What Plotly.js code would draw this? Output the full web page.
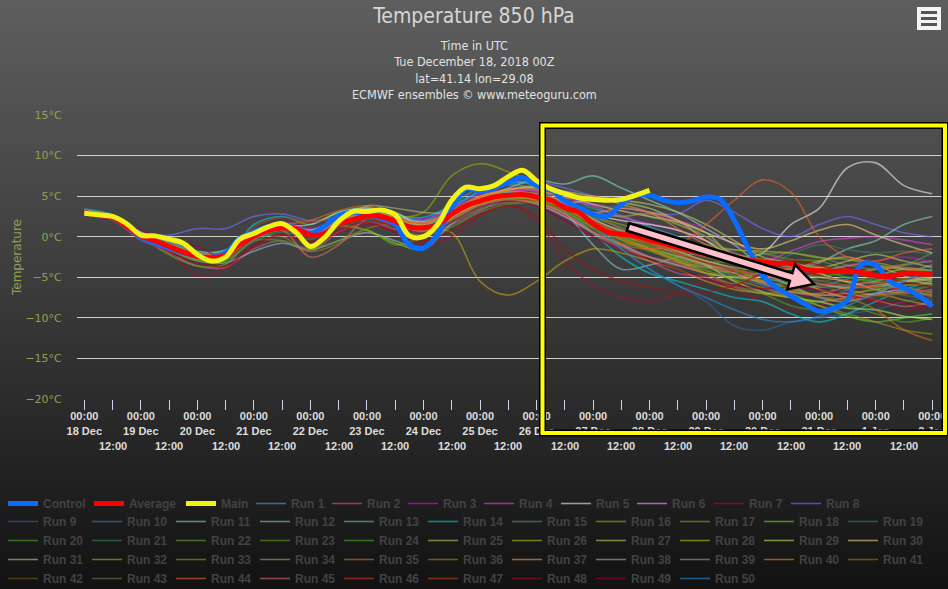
<!DOCTYPE html>
<html><head><meta charset="utf-8">
<script src="https://cdn.plot.ly/plotly-3.0.1.min.js"></script>
<style>
html,body{margin:0;padding:0;}
body{width:948px;height:589px;overflow:hidden;background:linear-gradient(to bottom,#5e5e5e 0%,#3a3a3a 50%,#121212 100%);}
#chart{width:948px;height:589px;}
</style></head><body><div id="chart"></div>
<script>
// ---------- DATA ----------
const startUTC = Date.UTC(2018, 11, 18, 0);
const dayLabels = ['18 Dec','19 Dec','20 Dec','21 Dec','22 Dec','23 Dec','24 Dec','25 Dec','26 Dec','27 Dec','28 Dec','29 Dec','30 Dec','31 Dec','1 Jan','2 Jan'];
const yTickVals = [-20, -15, -10, -5, 0, 5, 10, 15];
const yTickText = ['\u221220°C', '\u221215°C', '\u221210°C', '\u22125°C', '0°C', '5°C', '10°C', '15°C'];

// 6-hourly, 18 Dec 00Z .. 2 Jan 00Z
const controlRun = [3.0,2.6,2.4,1.3,-0.1,-0.8,-1.4,-2.0,-2.4,-2.6,
  -2.0,-0.2,0.6,1.2,1.4,1.0,0.4,1.3,2.6,3.0,
  2.7,2.3,1.5,-1.0,-1.4,0.3,3.5,5.9,5.6,6.0,
  6.7,7.3,6.3,5.8,4.4,3.6,2.8,2.5,4.0,5.1,
  5.1,4.5,4.2,4.4,4.9,4.6,2.0,-1.5,-4.8,-6.3,
  -7.3,-8.3,-9.2,-8.8,-7.8,-3.4,-3.5,-5.5,-6.3,-7.2,-8.6];
const averageRun = [3.0,2.6,2.4,1.3,0.1,-0.5,-1.2,-1.9,-2.4,-2.6,
  -2.3,-0.9,0.1,0.8,1.1,1.0,0.2,0.4,1.6,2.1,
  2.6,2.5,1.9,1.2,1.1,1.5,2.8,3.8,4.4,4.9,
  5.1,5.2,4.9,4.5,3.6,3.0,1.6,0.6,0.3,0.1,
  -0.4,-0.8,-1.3,-1.7,-2.1,-2.4,-2.6,-2.9,-3.1,-3.3,
  -3.3,-4.0,-4.2,-4.3,-4.2,-4.4,-4.8,-4.9,-4.5,-4.5,-4.6];
// 6-hourly, 18 Dec 00Z .. 28 Dec 00Z
const mainRun = [2.9,2.7,2.5,1.6,0.2,0.1,-0.3,-0.8,-2.2,-3.0,-2.5,
  -0.3,0.4,1.2,1.6,0.5,-1.2,-0.1,1.9,3.1,3.1,
  3.3,2.7,0.1,0.0,1.5,4.5,6.1,5.9,6.3,7.4,
  8.2,6.9,5.9,5.3,4.8,4.6,4.5,4.6,5.1,5.7];

// ensemble members, 12-hourly, 18 Dec 00Z .. 2 Jan 00Z
const run1 = [3.2,2.5,0.4,-0.8,-2.0,-1.6,0.8,1.6,0.9,2.2,3.4,2.8,2.0,4.0,6.0,6.4,6.0,5.2,3.5,2.6,1.2,0.0,-1.5,-2.8,-4.0,-5.5,-6.0,-5.2,-4.0,-3.5,-3.0];
const run2 = [2.8,2.2,-0.2,-2.0,-3.6,-3.8,-1.5,-0.5,-1.8,0.6,1.8,0.9,0.2,1.5,3.2,4.8,5.5,4.6,2.0,-1.0,-3.0,-4.5,-5.0,-6.2,-7.0,-6.5,-5.8,-6.5,-7.2,-6.8,-6.0];
const run3 = [3.1,2.6,0.3,-1.0,-2.2,-2.0,0.5,1.8,1.0,2.0,2.9,2.4,2.2,3.6,5.2,5.8,5.2,4.4,4.0,3.5,3.0,2.0,1.0,-1.0,-2.0,-3.2,-4.0,-3.5,-3.0,-2.5,-3.2];
const run4 = [3.0,2.3,0.0,-1.4,-2.6,-2.8,-0.3,0.9,0.0,1.2,2.4,2.0,1.5,3.0,4.6,5.5,5.7,4.8,3.8,2.4,1.6,0.8,-0.5,-2.0,-3.0,-1.8,-0.6,-0.2,0.0,-0.4,-1.0];
const run5 = [2.9,2.4,0.2,-1.0,-2.0,-2.2,0.4,1.4,0.6,1.9,2.8,2.2,1.8,3.2,5.0,5.6,5.0,4.0,2.8,2.0,1.5,0.8,-0.5,-2.5,-2.0,1.5,3.5,8.5,9.1,6.3,5.3];
const run6 = [3.0,2.5,0.1,-1.3,-2.5,-2.5,0.0,1.0,0.3,1.5,2.5,1.5,0.8,2.4,4.0,4.5,4.0,2.5,0.5,-1.0,-2.5,-3.5,-4.5,-5.0,-4.5,-5.0,-6.5,-7.5,-7.0,-6.5,-6.8];
const run7 = [3.1,2.2,-0.3,-1.8,-4.8,-4.0,-1.2,0.2,-0.8,0.5,1.6,0.5,-1.0,0.0,2.5,4.0,2.0,-3.0,-6.0,-7.5,-8.0,-7.0,-5.5,-6.5,-8.0,-9.0,-8.5,-7.5,-8.0,-9.0,-8.5];
const run8 = [3.0,2.6,0.5,0.2,1.0,1.0,2.5,2.8,2.0,2.5,3.2,2.6,2.0,3.5,5.5,6.5,6.8,6.0,5.0,4.0,3.0,2.8,4.5,3.0,1.0,0.0,1.5,2.5,1.5,0.5,0.0];
const run9 = [2.9,2.3,0.0,-1.3,-2.6,-2.5,-0.2,0.8,0.0,1.4,2.3,1.6,0.7,2.2,4.0,4.9,4.6,3.0,1.0,-1.5,-4.0,-6.0,-8.0,-11.0,-11.5,-10.5,-10.0,-9.5,-9.0,-8.0,-7.5];
const run10 = [3.0,2.4,0.1,-1.1,-2.3,-2.1,0.2,1.3,0.4,1.8,2.8,2.3,1.6,3.4,4.8,5.4,5.0,4.2,2.4,1.2,0.0,-1.6,-3.5,-5.0,-6.0,-7.5,-8.0,-6.5,-5.0,-4.0,-4.5];
const run11 = [3.3,2.6,0.6,-0.6,-1.8,-1.7,0.6,1.5,0.8,2.0,3.0,2.5,1.8,3.0,4.6,6.0,7.0,6.5,7.5,6.0,4.5,3.0,1.0,-1.0,-3.5,-4.0,-3.2,-1.5,-0.5,1.5,2.5];
const run12 = [2.8,2.1,-0.4,-1.7,-3.0,-3.2,-1.8,-0.8,-1.6,-0.5,0.5,-0.5,-1.5,1.6,3.6,4.6,5.2,3.0,-1.0,-4.0,-3.5,-2.5,-2.0,-3.0,-4.5,-6.0,-7.5,-8.0,-7.0,-5.5,-5.0];
const run13 = [3.1,2.5,0.2,-1.0,-2.1,-2.0,0.4,1.2,0.5,1.7,2.6,2.0,1.4,2.6,4.2,5.0,4.8,3.6,1.8,0.0,-1.5,-2.5,-3.6,-4.0,-5.0,-5.8,-6.2,-6.0,-5.5,-4.5,-3.5];
const run14 = [3.4,2.7,0.5,-0.9,-2.2,-2.4,1.5,2.5,1.5,3.0,3.6,2.6,2.4,3.8,5.6,6.8,6.2,3.5,0.5,-2.5,-4.5,-5.5,-6.5,-7.5,-8.0,-9.5,-10.5,-9.5,-8.0,-6.5,-5.5];
const run15 = [3.0,2.4,0.0,-1.4,-2.7,-2.6,-0.3,0.8,0.0,1.3,2.2,1.4,0.4,1.8,3.4,4.2,4.0,2.8,0.6,-1.2,-2.5,-3.6,-3.2,-3.0,-2.2,-2.0,-2.5,-3.5,-4.0,-3.5,-2.0];
const run16 = [3.0,2.5,0.3,-1.0,-2.2,-2.2,0.3,1.4,0.4,1.8,3.0,2.4,3.0,7.5,9.0,8.0,6.5,4.4,2.6,1.5,0.5,-0.8,-2.0,-2.2,-2.8,-3.5,-4.5,-5.5,-4.8,-4.0,-4.2];
const run17 = [2.9,2.3,0.0,-2.2,-3.6,-3.4,0.0,1.0,0.1,1.4,2.4,1.7,0.9,2.5,4.2,4.8,4.5,3.2,1.0,-0.8,-1.2,-1.8,-2.0,-2.5,-3.0,-3.5,-3.8,-4.2,-5.0,-5.5,-5.2];
const run18 = [3.1,2.4,0.2,-1.1,-2.3,-2.2,0.1,1.2,0.3,1.7,2.7,2.1,1.3,3.0,4.6,5.2,5.0,4.0,2.2,0.5,-0.8,-2.0,-3.0,-4.0,-5.5,-7.0,-8.5,-9.8,-10.5,-10.0,-9.5];
const run19 = [3.0,2.3,-0.1,-1.5,-2.8,-2.9,-0.6,0.6,-0.3,1.1,2.1,1.2,0.3,1.9,3.8,4.6,4.4,3.0,1.0,-0.5,-1.8,-2.8,-4.0,-5.2,-3.8,-2.2,-1.0,-1.6,-2.0,-1.8,-2.2];
const run20 = [2.9,2.2,-0.2,-1.6,-2.9,-3.0,-0.5,-0.5,-1.5,-0.5,0.8,-1.0,0.0,1.2,3.0,4.0,4.2,3.4,1.5,0.2,-1.0,-2.6,-4.5,-6.0,-7.0,-8.5,-9.0,-8.5,-9.5,-10.5,-10.0];
const run21 = [3.0,2.5,0.2,-1.1,-2.3,-2.1,0.3,1.2,0.4,1.6,2.6,1.9,1.2,2.6,4.4,5.2,5.3,4.3,3.5,3.8,2.5,1.5,0.0,-3.0,-4.2,-5.0,-5.5,-5.0,-5.8,-6.5,-6.0];
const run22 = [3.1,2.6,0.4,-0.9,-2.0,-1.9,0.5,1.5,0.6,2.0,3.0,2.3,1.6,3.1,4.8,5.5,5.2,3.8,1.5,-0.3,-1.5,-2.4,-3.5,-4.8,-5.6,-5.8,-5.0,-4.5,-5.2,-6.2,-7.0];
const run23 = [2.8,2.2,-0.3,-1.6,-2.8,-2.7,-0.2,0.9,0.0,1.3,2.3,1.5,0.6,2.0,3.8,4.6,4.3,3.0,1.2,-0.2,-0.5,-0.8,-1.0,-1.6,-2.0,-2.8,-3.0,-4.0,-4.6,-5.2,-5.8];
const run24 = [3.2,2.5,0.3,-1.0,-2.2,-2.2,0.2,1.1,0.2,1.6,2.5,1.8,1.0,2.5,4.2,4.8,4.6,3.6,1.6,0.0,-1.4,-2.8,-3.8,-4.4,-3.2,-3.5,-4.0,-5.0,-5.4,-4.6,-4.0];
const run25 = [3.0,2.4,0.1,-1.2,-2.4,-2.4,0.0,1.1,0.2,1.5,2.5,1.8,1.0,2.7,4.6,5.8,6.2,5.6,5.0,4.5,4.0,3.0,1.5,-0.5,-2.5,-3.2,-3.8,-3.0,-2.2,-3.0,-3.8];
const run26 = [2.9,2.3,-0.1,-1.4,-2.6,-2.6,-0.2,0.9,0.0,1.3,0.8,-0.8,-1.5,2.3,4.0,4.8,4.6,3.4,1.4,0.2,-0.6,-1.5,-1.5,-1.6,-1.8,-2.0,-2.6,-2.8,-3.5,-4.0,-4.4];
const run27 = [3.1,2.5,0.2,-1.0,-2.2,-2.1,0.3,1.3,0.4,1.7,2.7,2.1,1.4,2.9,4.6,5.4,5.2,4.2,4.5,4.2,3.5,2.0,0.5,-2.5,-3.2,-3.6,-4.5,-5.6,-6.2,-5.5,-5.2];
const run28 = [3.0,2.4,0.0,-1.3,-2.5,-2.3,0.1,1.1,0.2,1.6,2.6,2.0,1.2,2.8,4.5,5.0,4.8,3.8,1.8,0.0,-1.5,-3.0,-4.5,-5.0,-5.5,-6.4,-7.2,-7.0,-6.5,-6.0,-5.8];
const run29 = [2.9,2.3,-0.1,-1.5,-2.7,-2.6,-0.1,1.0,0.0,1.4,2.4,1.7,1.0,2.5,4.4,5.2,5.0,3.6,1.7,0.4,-0.7,-2.2,-3.5,-5.5,-6.8,-7.5,-8.0,-8.8,-9.0,-9.8,-10.2];
const run30 = [3.0,2.5,0.2,-1.1,-2.3,-2.2,0.2,1.2,1.5,3.0,3.5,3.0,1.3,2.9,4.8,5.8,6.0,5.2,4.0,3.2,2.5,1.8,0.5,-0.8,-1.5,-0.5,0.8,1.5,0.2,-1.0,-2.0];
const run31 = [3.0,2.4,0.1,-1.2,-2.4,-2.3,0.1,1.1,0.1,1.5,2.5,1.8,1.0,2.6,4.3,5.0,4.9,3.9,2.0,0.8,-0.2,-1.4,-2.4,-3.0,-3.8,-4.5,-5.0,-5.5,-6.5,-7.0,-6.5];
const run32 = [3.1,2.4,0.1,-1.2,-2.4,-2.4,-0.1,1.0,0.0,1.4,2.3,1.5,1.0,0.5,-5.5,-7.2,-5.5,-3.0,-1.5,-2.0,-3.0,-4.0,-5.5,-6.5,-7.0,-7.5,-8.0,-7.5,-7.0,-7.8,-8.5];
const run33 = [2.9,2.3,0.0,-1.3,-2.5,-2.5,0.0,1.0,0.1,1.4,2.4,1.6,0.9,2.4,4.1,4.8,4.6,3.5,1.4,-0.3,-1.7,-3.0,-4.2,-5.3,-6.3,-7.5,-8.5,-9.5,-10.5,-11.5,-12.0];
const run34 = [3.0,2.5,0.2,-1.1,-2.3,-2.2,0.2,1.2,0.3,1.7,2.7,2.1,1.3,2.8,4.5,5.2,5.0,4.0,3.0,2.5,2.8,1.5,0.0,-2.2,-3.0,-3.8,-4.2,-3.6,-3.2,-4.0,-4.8];
const run35 = [3.1,2.6,0.3,-1.0,-2.1,-2.0,0.4,1.4,2.0,3.2,3.8,2.3,1.7,3.2,5.0,5.6,5.3,4.3,2.6,1.0,-0.5,-1.8,-3.0,-4.0,-4.8,-5.5,-6.5,-7.5,-9.0,-11.5,-12.8];
const run36 = [2.9,2.3,-0.1,-1.4,-2.6,-2.5,0.0,1.0,0.1,1.4,2.4,1.7,0.9,2.5,4.3,5.0,4.7,3.4,1.3,-0.4,-1.6,-2.8,-3.4,-4.2,-5.4,-6.6,-7.4,-7.8,-7.2,-6.8,-7.4];
const run37 = [3.0,2.4,0.1,-1.2,-2.4,-2.3,0.1,1.1,0.2,1.6,2.6,1.9,1.1,2.7,4.5,5.3,5.2,4.4,3.0,3.5,3.0,2.0,-0.5,-2.6,-3.5,-4.0,-3.0,-2.5,-3.5,-4.8,-5.5];
const run38 = [3.0,2.5,0.2,-1.0,-2.2,-2.1,0.3,1.3,0.4,1.8,3.8,3.5,3.0,3.0,4.7,5.4,5.2,4.0,2.2,0.6,-0.6,-1.8,-3.0,-3.8,-4.2,-5.0,-5.8,-6.3,-6.0,-5.5,-5.8];
const run39 = [2.9,2.3,0.0,-1.3,-2.5,-2.4,0.0,1.0,0.1,1.4,2.4,1.7,1.0,2.5,4.2,4.9,4.7,3.6,1.8,0.2,-1.2,-2.4,-3.4,-4.5,-5.8,-6.8,-7.0,-6.2,-5.6,-6.5,-7.2];
const run40 = [3.1,2.5,0.3,-1.0,-2.2,-2.1,0.3,1.3,0.4,1.8,2.8,2.1,1.5,3.1,4.9,5.8,5.8,4.8,5.0,4.0,3.0,1.0,-1.0,-2.4,-2.8,-3.6,-4.0,-4.4,-4.0,-3.8,-4.2];
const run41 = [3.0,2.4,0.0,-1.3,-2.5,-2.4,-0.1,0.0,-1.8,-0.8,1.0,1.5,0.7,2.2,3.9,4.6,4.4,3.2,1.2,-0.2,-1.6,-3.2,-4.6,-5.8,-4.4,-3.8,-3.6,-4.4,-4.0,-3.4,-3.0];
const run42 = [2.9,2.3,-0.1,-1.4,-2.6,-2.6,-0.2,0.9,0.0,1.3,2.2,1.4,0.6,2.0,3.8,4.5,4.4,3.3,1.4,0.0,-1.2,-2.2,-3.2,-4.0,-4.5,-5.2,-6.0,-6.8,-7.4,-7.0,-6.6];
const run43 = [3.0,2.4,0.1,-1.2,-2.4,-2.3,0.1,1.1,0.2,1.6,2.6,1.9,1.1,2.7,4.4,5.1,4.9,3.8,1.9,0.5,-0.6,-1.6,-2.6,-3.4,-4.0,-4.6,-5.4,-6.0,-6.6,-7.2,-7.8];
const run44 = [3.2,2.6,0.4,-0.9,-2.1,-2.0,0.4,1.4,0.5,1.9,2.9,2.3,1.7,3.2,4.8,5.2,4.4,2.8,0.6,-1.0,-1.5,-1.0,1.5,4.5,7.0,5.5,0.0,-2.5,-3.0,-2.0,-1.5];
const run45 = [2.9,2.2,-0.2,-1.5,-2.7,-2.7,-0.3,0.8,-2.5,-1.0,2.2,1.4,0.7,2.1,3.9,4.5,4.2,2.8,0.5,-1.5,-2.5,-3.2,-3.8,-4.5,-5.6,-6.8,-7.2,-7.0,-7.8,-8.6,-8.0];
const run46 = [3.0,2.4,0.1,-1.2,-2.4,-2.3,0.1,1.1,0.2,1.5,2.5,1.8,1.0,2.6,4.3,5.0,4.8,3.7,1.7,0.3,-0.8,-2.0,-3.2,-4.2,-4.8,-5.2,-5.8,-6.0,-6.2,-6.5,-6.8];
const run47 = [3.1,2.5,0.2,-1.1,-2.3,-2.2,1.2,2.4,1.8,2.4,3.2,2.0,1.2,2.8,4.5,5.2,5.0,3.9,2.0,0.4,-0.8,-1.6,-2.4,-3.2,-3.6,-4.0,-4.8,-5.4,-5.8,-5.2,-4.8];
const run48 = [2.8,2.1,-0.4,-1.8,-3.2,-3.6,-1.0,0.3,-0.6,0.8,1.8,0.6,-0.5,0.8,2.8,3.8,2.5,-1.5,-4.0,-5.5,-6.2,-7.0,-6.8,-6.0,-4.5,-3.0,-3.5,-4.5,-5.0,-5.6,-6.2];
const run49 = [3.0,2.3,0.8,-0.5,-1.2,-2.6,-0.2,0.9,-0.1,1.2,2.2,1.3,0.4,1.8,3.6,4.4,3.8,2.0,0.0,-1.5,-2.8,-4.0,-5.2,-6.0,-6.4,-6.2,-6.6,-7.2,-7.8,-8.2,-8.8];
const run50 = [3.1,2.5,0.3,-1.0,-2.2,-2.1,0.2,1.2,0.3,1.7,2.7,2.0,1.3,2.9,4.6,5.4,5.2,4.0,1.5,-1.5,-4.0,-6.0,-7.5,-9.0,-10.2,-10.5,-9.8,-8.5,-7.0,-5.5,-4.0];

const ensembleRuns = [run1,run2,run3,run4,run5,run6,run7,run8,run9,run10,run11,run12,run13,run14,run15,run16,run17,run18,run19,run20,
  run21,run22,run23,run24,run25,run26,run27,run28,run29,run30,run31,run32,run33,run34,run35,run36,run37,run38,run39,run40,
  run41,run42,run43,run44,run45,run46,run47,run48,run49,run50];

const runColors = ['#3aa0e0','#d0508a','#c020c0','#e040e0','#e8e8e8','#f0a0f0','#a01030','#7070ff','#3060a0','#3a7ab0',
  '#80d0c0','#80c0c8','#60c090','#00c8d0','#609060','#90b000','#80a020','#60d030','#308060','#50a020',
  '#308050','#60a030','#60a010','#40b020','#c0c060','#a0c010','#b0d060','#b0c000','#b0e060','#e0d080',
  '#c0c080','#c0a010','#a09010','#c09060','#d07010','#b08010','#e0a070','#b0b080','#c09070','#e08020',
  '#a07020','#705020','#707040','#e06030','#d07060','#d03030','#c04020','#a01010','#a00030','#2090d0'];

// ---------- HELPERS ----------
function timeAxis(n, stepHours) {
  const out = [];
  for (let i = 0; i < n; i++) {
    const d = new Date(startUTC + i * stepHours * 3600e3);
    out.push(d.toISOString().slice(0, 16).replace('T', ' '));
  }
  return out;
}
function rgba(hex, a) {
  const v = parseInt(hex.slice(1), 16);
  return 'rgba(' + (v >> 16 & 255) + ',' + (v >> 8 & 255) + ',' + (v & 255) + ',' + a + ')';
}
const M = {l: 77, r: 4, t: 115, b: 190};
const PW = 948 - M.l - M.r, PH = 589 - M.t - M.b;
const px = x => (x - M.l) / PW;
const py = y => (M.t + PH - y) / PH;

// ---------- LEGEND LAYOUT ----------
const row1Slots = [41, 47, 25, 31, 31, 31, 32, 31, 32, 32, 31];   // Control, Average, Main, Run 1..8

// ---------- TRACES ----------
const t6 = timeAxis(61, 6);
const t6main = timeAxis(41, 6);
const t12 = timeAxis(31, 12);

const traces = [];
ensembleRuns.forEach((vals, i) => {
  const n = i + 1;
  const tr = {
    type: 'scatter', mode: 'lines', x: t12, y: vals, name: 'Run ' + n,
    line: {color: rgba(runColors[i], 0.62), width: 1.6, shape: 'spline', smoothing: 1},
    hoverinfo: 'skip', legend: n <= 8 ? 'legend' : 'legend2', legendrank: 1000
  };
  if (n <= 8) tr.legendwidth = row1Slots[n + 2];
  traces.push(tr);
});
traces.push({type: 'scatter', mode: 'lines', x: t6, y: controlRun, name: 'Control',
  line: {color: '#0a6cff', width: 5, shape: 'spline', smoothing: 1}, hoverinfo: 'skip', legend: 'legend', legendrank: 1, legendwidth: row1Slots[0]});
traces.push({type: 'scatter', mode: 'lines', x: t6, y: averageRun, name: 'Average',
  line: {color: '#ff0000', width: 5, shape: 'spline', smoothing: 1}, hoverinfo: 'skip', legend: 'legend', legendrank: 2, legendwidth: row1Slots[1]});
traces.push({type: 'scatter', mode: 'lines', x: t6main, y: mainRun, name: 'Main',
  line: {color: '#f2f215', width: 5, shape: 'spline', smoothing: 1}, hoverinfo: 'skip', legend: 'legend', legendrank: 3, legendwidth: row1Slots[2]});

// ---------- AXES / TICKS ----------
const tickVals = timeAxis(31, 12);
const tickText = tickVals.map((v, i) => i % 2 === 0 ? '00:00<br>' + dayLabels[i / 2] : '');
const tickFont = {family: 'Liberation Sans, Arial, sans-serif', size: 11, color: '#dddddd', weight: 'bold'};

const annotations = [{
  xref: 'paper', yref: 'paper', x: px(474), y: py(70), xanchor: 'center', yanchor: 'middle',
  showarrow: false, align: 'center',
  text: 'Time in UTC<br>Tue December 18, 2018 00Z<br>lat=41.14 lon=29.08<br>ECMWF ensembles © www.meteoguru.com',
  font: {family: 'DejaVu Sans Condensed, Liberation Sans Narrow, sans-serif', size: 12.5, color: '#e2e2e2'}
}];
tickVals.forEach((v, i) => {
  if (i % 2 === 1) annotations.push({xref: 'x', yref: 'paper', x: v, y: 0, yanchor: 'middle', yshift: -47,
    showarrow: false, text: '12:00', font: tickFont});
});

// ---------- DECORATION ----------
const box = {x0: px(542.5), x1: px(945), y0: py(433), y1: py(125.5)};
const arrowPts = [[629.2,223.2],[792.3,273.2],[794.9,264.6],[814,284],[787.3,289.4],[789.9,280.8],[626.8,230.8]];
const arrowPath = 'M' + arrowPts.map(p => px(p[0]).toFixed(5) + ',' + py(p[1]).toFixed(5)).join(' L') + ' Z';
const shapes = [
  Object.assign({type: 'rect', xref: 'paper', yref: 'paper', layer: 'above', line: {color: '#000', width: 7}}, box),
  Object.assign({type: 'rect', xref: 'paper', yref: 'paper', layer: 'above', line: {color: '#ffff00', width: 4}}, box),
  {type: 'path', xref: 'paper', yref: 'paper', layer: 'above', path: arrowPath, fillcolor: '#ffc0cb', line: {color: '#000', width: 2.5}},
  {type: 'rect', xref: 'paper', yref: 'paper', layer: 'above', x0: px(917), x1: px(941), y0: py(30), y1: py(7), fillcolor: '#f4f4f4', line: {width: 0}},
  {type: 'rect', xref: 'paper', yref: 'paper', layer: 'above', x0: px(921), x1: px(937), y0: py(14), y1: py(11), fillcolor: '#555', line: {width: 0}},
  {type: 'rect', xref: 'paper', yref: 'paper', layer: 'above', x0: px(921), x1: px(937), y0: py(20), y1: py(17), fillcolor: '#555', line: {width: 0}},
  {type: 'rect', xref: 'paper', yref: 'paper', layer: 'above', x0: px(921), x1: px(937), y0: py(26), y1: py(23), fillcolor: '#555', line: {width: 0}}
];

const legendBase = {orientation: 'h', xanchor: 'left', yanchor: 'top', entrywidthmode: 'pixels',
  bgcolor: 'rgba(0,0,0,0)', borderwidth: 0, traceorder: 'normal', itemclick: false, itemdoubleclick: false,
  font: {family: 'Liberation Sans, Arial, sans-serif', size: 12, color: '#424242', weight: 'bold'}};

const layout = {
  width: 948, height: 589,
  margin: Object.assign({autoexpand: false}, M),
  paper_bgcolor: 'rgba(0,0,0,0)', plot_bgcolor: 'rgba(0,0,0,0)',
  font: {family: 'Liberation Sans, Arial, sans-serif'},
  title: {text: 'Temperature 850 hPa', xref: 'container', x: 0.5, xanchor: 'center', yref: 'container', y: 1 - 16 / 589, yanchor: 'middle',
    font: {family: 'DejaVu Sans Condensed, Liberation Sans Narrow, sans-serif', size: 21, color: '#d6d6d6'}},
  xaxis: {type: 'date', range: ['2018-12-17 20:54', '2019-01-02 05:00'], tickmode: 'array', tickvals: tickVals, ticktext: tickText,
    ticks: 'outside', ticklen: 10, tickcolor: '#ccd6eb', tickwidth: 1, showgrid: false, zeroline: false, showline: false,
    ticklabelstandoff: -3,
    tickfont: tickFont, tickangle: 0, fixedrange: true},
  yaxis: {range: [-20, 15], tickmode: 'array', tickvals: yTickVals, ticktext: yTickText,
    showgrid: true, gridcolor: '#d0d0d0', gridwidth: 1, zeroline: false, showline: false,
    ticks: 'outside', ticklen: 12, tickcolor: 'rgba(0,0,0,0)',
    tickfont: {family: 'DejaVu Sans, sans-serif', size: 11, color: '#90a050'},
    title: {text: 'Temperature', standoff: 1, font: {family: 'DejaVu Sans, sans-serif', size: 12, color: '#90a050'}}, fixedrange: true},
  legend: Object.assign({}, legendBase, {x: px(3), y: py(489)}),
  legend2: Object.assign({}, legendBase, {x: px(3), y: py(507), entrywidth: 39}),
  annotations: annotations,
  shapes: shapes,
  showlegend: true
};

Plotly.newPlot('chart', traces, layout, {staticPlot: true, displayModeBar: false});
</script></body></html>
